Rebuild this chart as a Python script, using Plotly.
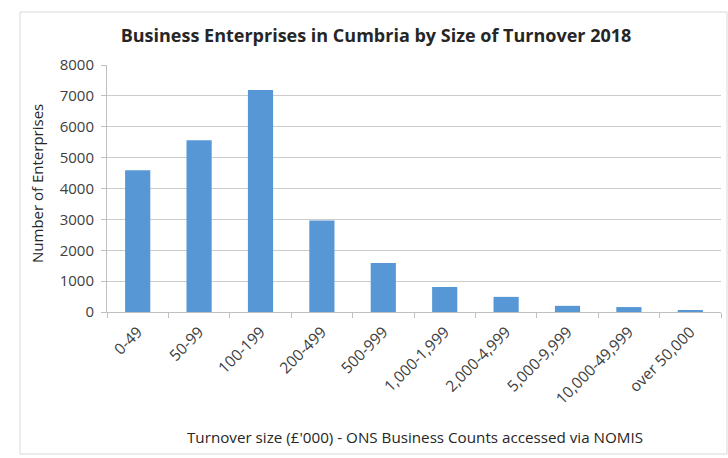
import plotly.graph_objects as go

categories = ["0-49", "50-99", "100-199", "200-499", "500-999", "1,000-1,999",
              "2,000-4,999", "5,000-9,999", "10,000-49,999", "over 50,000"]
enterprises = [4590, 5560, 7190, 2960, 1590, 810, 490, 200, 160, 60]
y_ticks = [0, 1000, 2000, 3000, 4000, 5000, 6000, 7000, 8000]

title_text = "Business Enterprises in Cumbria by Size of Turnover 2018"
x_title = "Turnover size (£'000) - ONS Business Counts accessed via NOMIS"
y_title = "Number of Enterprises"

W, H = 728, 458
L, R, T, B = 107, 7, 65, 146
pw, ph = W - L - R, H - T - B

FONT = "Open Sans, Liberation Sans, sans-serif"

fig = go.Figure(go.Bar(
    x=categories, y=enterprises,
    marker=dict(color="#5797d6", line=dict(width=0)),
    hoverinfo="skip",
))

fig.update_layout(
    width=W, height=H,
    margin=dict(l=L, r=R, t=T, b=B, autoexpand=False),
    paper_bgcolor="white", plot_bgcolor="white",
    bargap=0.59,
    showlegend=False,
    font=dict(family=FONT, size=13, color="#595959"),
    title=dict(text="<b>" + title_text + "</b>", x=376 / W, xanchor="center",
               y=1 - 36 / H, yanchor="middle",
               font=dict(family=FONT, size=18, color="#262626")),
    xaxis=dict(
        type="category", tickangle=-45,
        showline=True, linecolor="#bfbfbf", linewidth=1,
        ticks="outside", tickson="boundaries", ticklen=5, tickcolor="#bfbfbf",
        showgrid=False, ticklabelstandoff=4,
        tickfont=dict(family=FONT, size=15.5, color="#404040"),
    ),
    yaxis=dict(
        range=[0, 8000], tickvals=y_ticks,
        showgrid=True, gridcolor="#cccccc", gridwidth=1,
        showline=True, linecolor="#bfbfbf", linewidth=1,
        ticks="outside", ticklen=5, tickcolor="#bfbfbf",
        zeroline=False, ticklabelstandoff=4,
        tickfont=dict(family=FONT, size=15, color="#404040"),
    ),
    annotations=[
        dict(text=y_title, xref="paper", yref="paper",
             x=(37 - L) / pw, y=(H - B - 184) / ph, textangle=-90,
             showarrow=False, xanchor="center", yanchor="middle",
             font=dict(family=FONT, size=15, color="#262626")),
        dict(text=x_title, xref="paper", yref="paper",
             x=(415 - L) / pw, y=(H - B - 437) / ph,
             showarrow=False, xanchor="center", yanchor="middle",
             font=dict(family=FONT, size=15.2, color="#262626")),
    ],
    shapes=[
        dict(type="rect", xref="paper", yref="paper",
             x0=(20 - L) / pw, x1=(W - 1 - L) / pw,
             y0=(H - B - 454) / ph, y1=(H - B - 12) / ph,
             line=dict(color="#d9d9d9", width=1), fillcolor="rgba(0,0,0,0)",
             layer="below"),
    ],
)

fig.write_html("out.html", config={"displayModeBar": False},
               post_script="document.body.style.margin='0';")
